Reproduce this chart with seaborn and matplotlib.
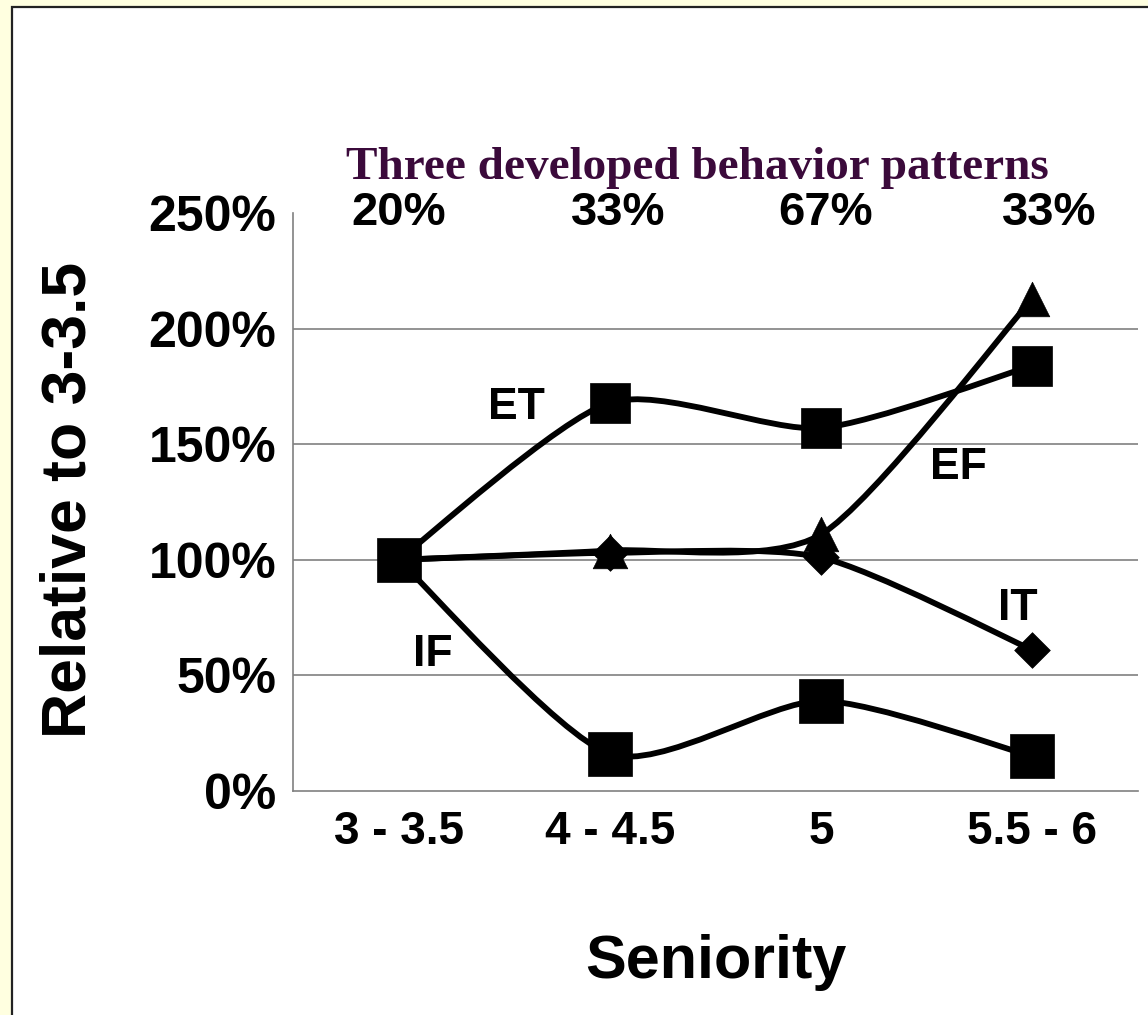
import numpy as np
import pandas as pd
import matplotlib
matplotlib.use('Agg')
import matplotlib.pyplot as plt
from matplotlib.path import Path
from matplotlib.patches import PathPatch, Rectangle
from matplotlib.ticker import FixedLocator, NullFormatter, FuncFormatter
import seaborn as sns

# data
seniority = ['3 - 3.5', '4 - 4.5', '5', '5.5 - 6']
share_labels = ['20%', '33%', '67%', '33%']
et_vals = [100, 168, 157, 184]
ef_vals = [100, 104, 111, 213]
it_vals = [100, 103, 101, 61]
if_vals = [100, 16, 39, 15]
series_names = ['ET', 'EF', 'IT', 'IF']


def smooth_path(xs, ys, k=0.12):
    # Excel-like smoothed line: Bezier segments with Catmull-Rom style control points
    pts = np.column_stack([xs, ys]).astype(float)
    padded = np.vstack([pts[0], pts, pts[-1]])
    verts = [pts[0]]
    codes = [Path.MOVETO]
    for i in range(len(pts) - 1):
        p0, p1, p2, p3 = padded[i], padded[i + 1], padded[i + 2], padded[i + 3]
        verts += [p1 + (p2 - p0) * k, p2 - (p3 - p1) * k, p2]
        codes += [Path.CURVE4] * 3
    return Path(verts, codes)


def main():
    sns.set_theme(style='white')
    narrow = ['Liberation Sans Narrow', 'Liberation Sans', 'DejaVu Sans']
    plt.rcParams['font.family'] = ['Liberation Sans', 'DejaVu Sans']
    plt.rcParams['text.color'] = 'black'
    plt.rcParams['axes.labelcolor'] = 'black'
    plt.rcParams['xtick.color'] = 'black'
    plt.rcParams['ytick.color'] = 'black'

    x = np.arange(len(seniority))
    df = pd.DataFrame({
        'pos': np.tile(x, 4),
        'value': et_vals + ef_vals + it_vals + if_vals,
        'series': np.repeat(series_names, len(x)),
    })

    fig = plt.figure(figsize=(11.48, 10.15), dpi=100, facecolor='#FFFFE0')
    fig.patches.append(Rectangle((12 / 1148, -0.02), 1.0, 1.02 - 7 / 1015,
                                 transform=fig.transFigure, facecolor='white',
                                 edgecolor='#222222', linewidth=1.6, zorder=-1))
    ax = fig.add_axes([293 / 1148, 1 - 791 / 1015, 845 / 1148, 578 / 1015])
    ax.patch.set_alpha(0)

    # smoothed lines
    for name in series_names:
        sub = df[df['series'] == name]
        ax.add_patch(PathPatch(smooth_path(sub['pos'], sub['value']),
                               facecolor='none', edgecolor='black',
                               linewidth=4.2, capstyle='round', joinstyle='round',
                               zorder=3))

    # markers
    marker_style = {'ET': ('s', 850), 'EF': ('^', 620), 'IT': ('D', 330), 'IF': ('s', 1000)}
    for name in series_names:
        sub = df[df['series'] == name]
        m, s = marker_style[name]
        sns.scatterplot(data=sub, x='pos', y='value', marker=m, s=s, color='black',
                        edgecolor='black', linewidth=0.5, ax=ax, zorder=4, legend=False)

    ax.set_xlim(-0.5, len(x) - 0.5)
    ax.set_ylim(0, 250)

    # axes styling
    for side in ['top', 'right']:
        ax.spines[side].set_visible(False)
    for side in ['left', 'bottom']:
        ax.spines[side].set_color('#808080')
        ax.spines[side].set_linewidth(1.2)

    ax.yaxis.set_major_locator(FixedLocator([0, 50, 100, 150, 200, 250]))
    ax.yaxis.set_major_formatter(FuncFormatter(lambda v, p: f'{v:.0f}%'))
    for yv in [50, 100, 150, 200]:
        ax.axhline(yv, color='#808080', linewidth=1.2, zorder=1)

    ax.xaxis.set_major_locator(FixedLocator(np.arange(len(x) + 1) - 0.5))
    ax.xaxis.set_major_formatter(NullFormatter())
    ax.set_xticks(x, seniority, minor=True)

    ax.tick_params(axis='both', which='major', direction='out', length=10,
                   width=1.2, color='#808080')
    ax.tick_params(axis='y', labelsize=36, pad=2)
    ax.tick_params(axis='x', which='minor', length=0, pad=14)
    for lab in ax.get_yticklabels():
        lab.set_fontweight('bold')
    for lab in ax.get_xticklabels(minor=True):
        lab.set_fontweight('bold')
        lab.set_family(narrow)
        lab.set_fontsize(33)

    ax.set_xlabel('Seniority', fontsize=44, fontweight='bold', family=narrow, va='center')
    ax.xaxis.set_label_coords(0.5, -0.296)
    ax.set_ylabel('Relative to 3-3.5', fontsize=45, fontweight='bold', va='center')
    ax.yaxis.set_label_coords(-0.265, 0.503)

    ax.text(0.478, 1.078, 'Three developed behavior patterns', transform=ax.transAxes,
            ha='center', va='center', fontsize=34, fontweight='bold',
            family=['Liberation Serif', 'DejaVu Serif'], color='#3B0A3B')

    share_dx = [0.0, 0.04, 0.02, 0.08]
    for i, lab in enumerate(share_labels):
        ax.text(x[i] + share_dx[i], 250, lab, ha='center', va='center', fontsize=34,
                fontweight='bold', family=narrow, clip_on=False)

    label_pos = {'ET': (0.56, 166), 'EF': (2.65, 140), 'IT': (2.93, 79), 'IF': (0.16, 59)}
    for name in series_names:
        lx, ly = label_pos[name]
        ax.text(lx, ly, name, ha='center', va='center', fontsize=32,
                fontweight='bold', family=narrow, zorder=5)

    fig.savefig('out.png', dpi=100, facecolor=fig.get_facecolor())


if __name__ == '__main__':
    main()
